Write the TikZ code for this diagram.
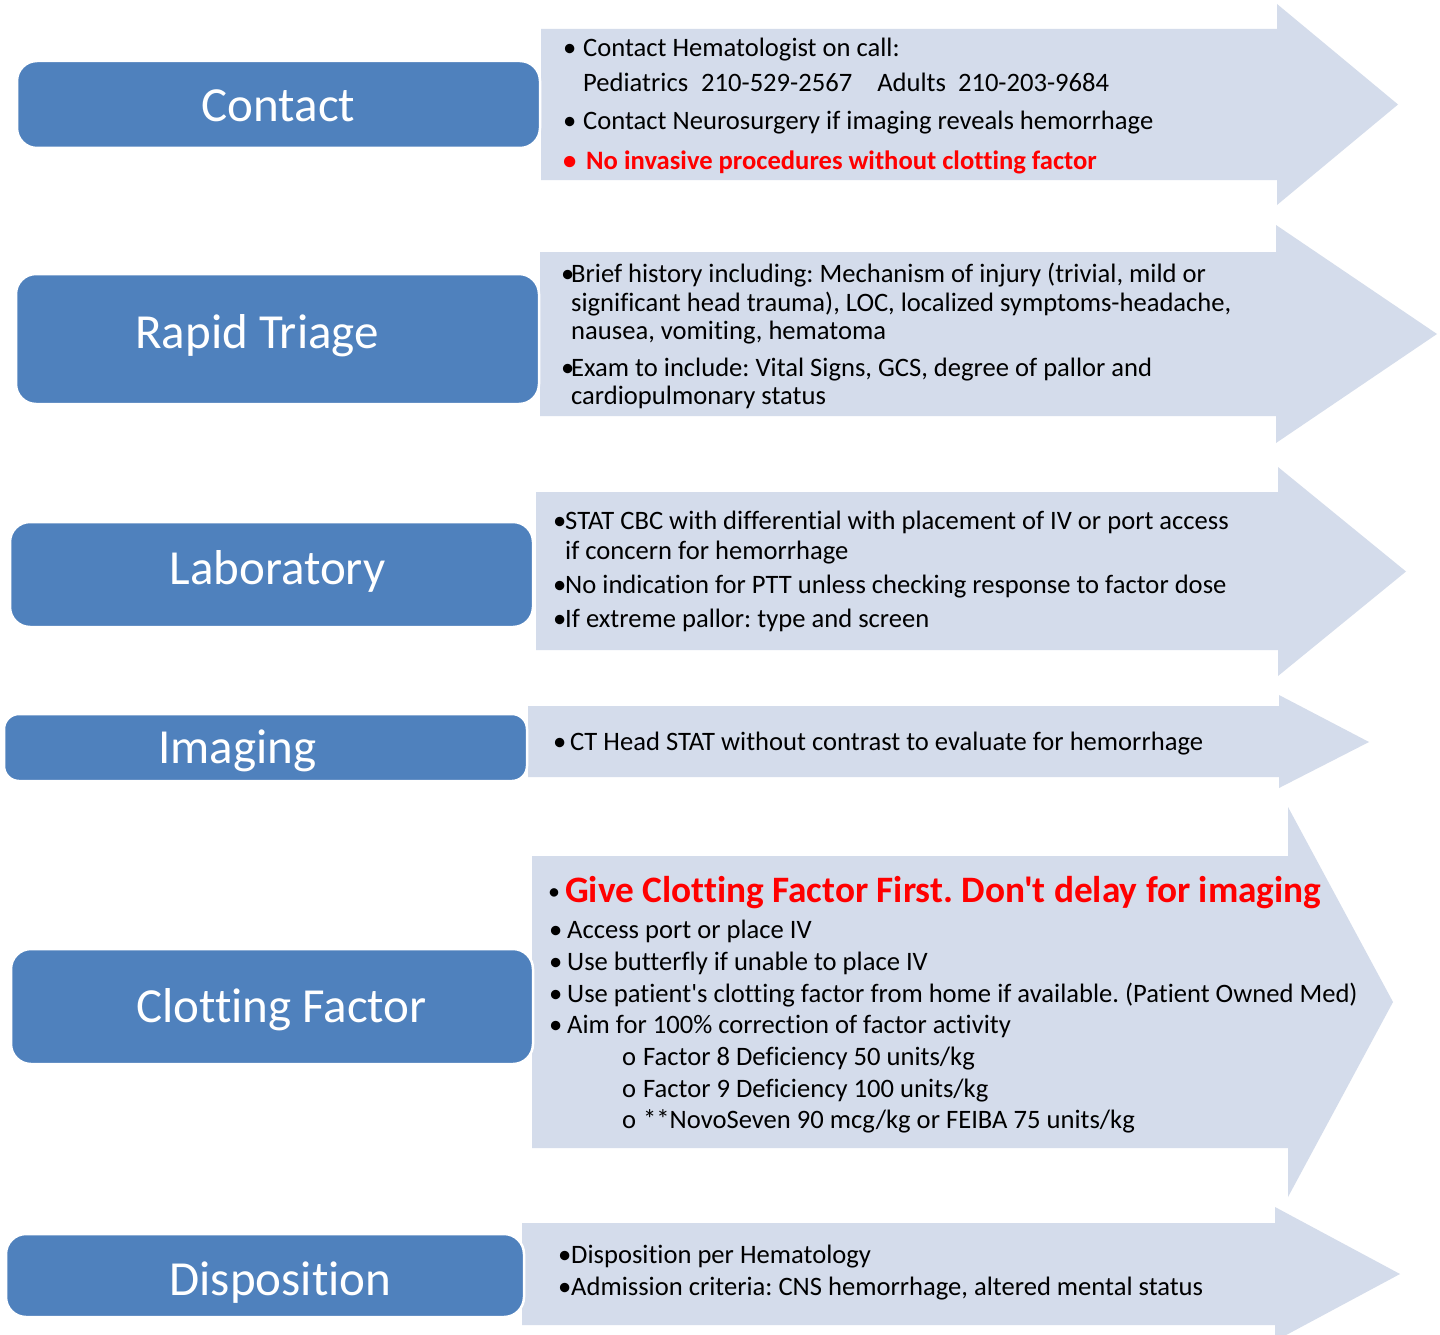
\documentclass[tikz,border=0pt]{standalone}
\usepackage{fontspec}
\setmainfont{Carlito}[Ligatures={TeXOff,CommonOff}]
\frenchspacing
\definecolor{boxblue}{HTML}{4F81BD}
\definecolor{arrowfill}{HTML}{D4DCEB}
\definecolor{alertred}{HTML}{FF0000}
\newcommand\bul[2][•]{\llap{\makebox[#2pt][l]{#1}}}
\newcommand\bigarrow[8]{\fill[arrowshape] (#1,#2) -- (#4,#2) -- (#4,#5) -- (#7,#8) -- (#4,#6) -- (#4,#3) -- (#1,#3) -- cycle;}
\begin{document}
\begin{tikzpicture}[x=1pt,y=-1pt,
  arrowshape/.style={fill=arrowfill},
  bluebox/.style={rectangle, rounded corners=20pt, fill=boxblue, draw=white, line width=2.5pt, inner sep=0pt},
  boxlabel/.style={anchor=base, text=white, inner sep=0pt, font=\fontsize{49}{59}\selectfont},
  txt/.style={anchor=base west, inner sep=0pt, font=\fontsize{26.6}{32}\selectfont},
  redtxt/.style={anchor=base west, inner sep=0pt, text=alertred, font=\fontsize{26.6}{32}\selectfont\bfseries},
]
\clip (0,0) rectangle (1440,1335);
\fill[white] (0,0) rectangle (1440,1335);

% arrows
\bigarrow{541}{29}{180}{1277}{4}{205}{1398}{104.5}
\bigarrow{540}{252}{416}{1276}{225}{443}{1437}{334}
\bigarrow{536}{492}{650}{1278}{467}{676}{1406}{571.5}
\bigarrow{528}{706}{777}{1279}{695}{788}{1369}{742}
\bigarrow{532}{856}{1148}{1288}{807}{1197}{1393}{1002}
\bigarrow{522}{1223}{1325}{1275}{1207}{1341}{1400}{1274}

% boxes
\node[bluebox, minimum width=523pt, minimum height=87pt] (contactbox) at (278.5,104.5) {};
\node[bluebox, minimum width=523pt, minimum height=130pt] (triagebox) at (277.5,339) {};
\node[bluebox, minimum width=523pt, minimum height=105pt] (labbox) at (271.5,574.5) {};
\node[bluebox, rounded corners=15pt, minimum width=523pt, minimum height=67pt] (imagingbox) at (265.5,747.5) {};
\node[bluebox, minimum width=522pt, minimum height=115pt] (clotbox) at (272,1006.5) {};
\node[bluebox, minimum width=518pt, minimum height=83pt] (dispbox) at (265,1275.5) {};

\node[boxlabel] (contactlbl) at (278.5,122) {Contact};
\node[boxlabel] (triagelbl) at (257,348) {Rapid Triage};
\node[boxlabel] (lablbl) at (277.5,584) {Laboratory};
\node[boxlabel] (imaginglbl) at (237.5,763) {Imaging};
\node[boxlabel] (clotlbl) at (281.5,1022) {Clotting Factor};
\node[boxlabel] (displbl) at (280.5,1295) {Disposition};

% row 1
\node[txt] (c1) at (583,57) {\bul{20}Contact Hematologist on call:};
\node[txt] (c2) at (583,92) {Pediatrics\hspace{13pt}210-529-2567\hspace{25pt}Adults\hspace{12pt}210-203-9684};
\node[txt] (c3) at (583,130) {\bul{20}Contact Neurosurgery if imaging reveals hemorrhage};
\node[redtxt] (c4) at (586,169) {\bul{23}No invasive procedures without clotting factor};

% row 2
\node[txt] (t1) at (571,282) {\bul{10}Brief history including: Mechanism of injury (trivial, mild or};
\node[txt] (t2) at (571,311) {significant head trauma), LOC, localized symptoms-headache,};
\node[txt] (t3) at (571,339) {nausea, vomiting, hematoma};
\node[txt] (t4) at (571,376) {\bul{10}Exam to include: Vital Signs, GCS, degree of pallor and};
\node[txt] (t5) at (571,404) {cardiopulmonary status};

% row 3
\node[txt] (l1) at (565,529) {\bul{12}STAT CBC with differential with placement of IV or port access};
\node[txt] (l2) at (565,559) {if concern for hemorrhage};
\node[txt] (l3) at (565,593) {\bul{12}No indication for PTT unless checking response to factor dose};
\node[txt] (l4) at (565,627) {\bul{12}If extreme pallor: type and screen};

% row 4
\node[txt] (i1) at (570,750) {\bul{17}CT Head STAT without contrast to evaluate for hemorrhage};

% row 5
\node[anchor=base west, inner sep=0pt, text=alertred, font=\fontsize{37.3}{44}\selectfont\bfseries] (f0) at (565,902) {\bul[\color{black}\fontsize{20}{24}\selectfont\raisebox{4pt}{•}]{16}Give Clotting Factor First. Don't delay for imaging};
\node[txt] (f1) at (567,938) {\bul{18}Access port or place IV};
\node[txt] (f2) at (567,970) {\bul{18}Use butterfly if unable to place IV};
\node[txt] (f3) at (567,1002) {\bul{18}Use patient's clotting factor from home if available. (Patient Owned Med)};
\node[txt] (f4) at (567,1033) {\bul{18}Aim for 100\% correction of factor activity};
\node[txt] (f5) at (643,1065) {\bul[o]{21}Factor 8 Deficiency 50 units/kg};
\node[txt] (f6) at (643,1097) {\bul[o]{21}Factor 9 Deficiency 100 units/kg};
\node[txt] (f7) at (643,1128) {\bul[o]{21}**NovoSeven 90 mcg/kg or FEIBA 75 units/kg};

% row 6
\node[txt] (d1) at (571,1263) {\bul{13}Disposition per Hematology};
\node[txt] (d2) at (571,1295) {\bul{13}Admission criteria: CNS hemorrhage, altered mental status};
\end{tikzpicture}
\end{document}
